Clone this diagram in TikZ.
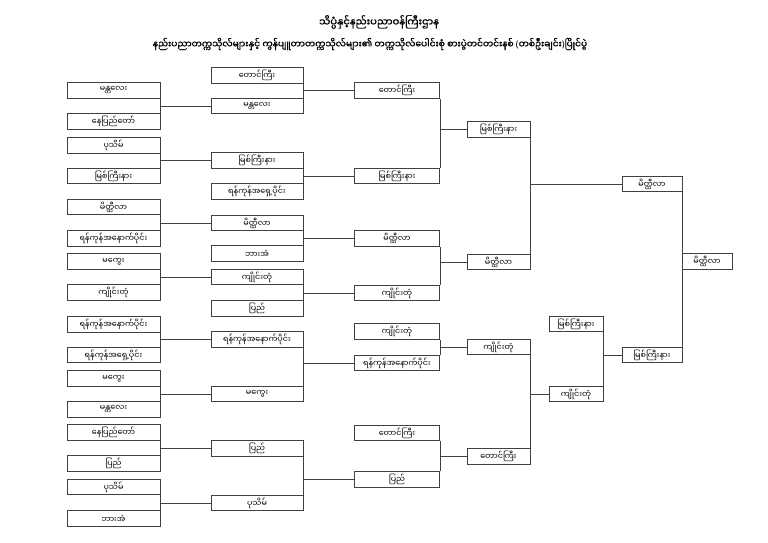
\documentclass[tikz,border=0pt]{standalone}
\usepackage{fontspec}
\newfontfamily\mm[Script=Myanmar]{Noto Sans Myanmar UI}
\newfontfamily\mmb[Script=Myanmar,FakeBold=1.5]{Noto Sans Myanmar UI}
\newfontfamily\latb{Noto Sans}
\newcommand\lp{{\latb\bfseries(}}
\newcommand\rp{{\latb\bfseries)}}
\begin{document}
\begin{tikzpicture}[x=1pt,y=-1pt,
  box/.style={draw=black!75,line width=0.6pt,fill=white,inner sep=0pt,minimum height=15.5pt,font=\mm\fontsize{8}{9}\selectfont},
  ca/.style={box,minimum width=93pt},
  cb/.style={box,minimum width=92pt},
  cc/.style={box,minimum width=85pt},
  cd/.style={box,minimum width=63pt},
  ce/.style={box,minimum width=60pt},
  cf/.style={box,minimum width=54pt},
  cg/.style={box,minimum width=50pt},
  ln/.style={draw=black!75,line width=0.6pt},
  ttl/.style={inner sep=0pt}]
\path[use as bounding box,fill=white] (0,0) rectangle (768,543);
% title
\node[ttl,font=\mmb\fontsize{10}{11}\selectfont] (t1) at (379,22) {သိပ္ပံနှင့်နည်းပညာဝန်ကြီးဌာန};
\node[ttl,font=\mmb\fontsize{9.1}{10}\selectfont] (t2) at (370,44) {နည်းပညာတက္ကသိုလ်များနှင့် ကွန်ပျူတာတက္ကသိုလ်များ၏ တက္ကသိုလ်ပေါင်းစုံ စားပွဲတင်တင်းနစ် \lp{}တစ်ဦးချင်း\rp{}ပြိုင်ပွဲ};
% column 1
\node[ca] (a1) at (113.5,90.5) {မန္တလေး};
\node[ca] (a2) at (113.5,121.5) {နေပြည်တော်};
\node[ca] (a3) at (113.5,145.5) {ပုသိမ်};
\node[ca] (a4) at (113.5,176) {မြစ်ကြီးနား};
\node[ca] (a5) at (113.5,207) {မိတ္ထီလာ};
\node[ca] (a6) at (113.5,238.5) {ရန်ကုန်အနောက်ပိုင်း};
\node[ca] (a7) at (113.5,261.5) {မကွေး};
\node[ca] (a8) at (113.5,292.5) {ကျိုင်းတုံ};
\node[ca] (a9) at (113.5,324.5) {ရန်ကုန်အနောက်ပိုင်း};
\node[ca] (a10) at (113.5,355) {ရန်ကုန်အရှေ့ပိုင်း};
\node[ca] (a11) at (113.5,378.5) {မကွေး};
\node[ca] (a12) at (113.5,409.5) {မန္တလေး};
\node[ca] (a13) at (113.5,432.5) {နေပြည်တော်};
\node[ca] (a14) at (113.5,463.5) {ပြည်};
\node[ca] (a15) at (113.5,487) {ပုသိမ်};
\node[ca] (a16) at (113.5,518.5) {ဘားအံ};
% column 2
\node[cb] (b1) at (257,75.5) {တောင်ကြီး};
\node[cb] (b2) at (257,106) {မန္တလေး};
\node[cb] (b3) at (257,160.5) {မြစ်ကြီးနား};
\node[cb] (b4) at (257,191.5) {ရန်ကုန်အရှေ့ပိုင်း};
\node[cb] (b5) at (257,223) {မိတ္ထီလာ};
\node[cb] (b6) at (257,253.5) {ဘားအံ};
\node[cb] (b7) at (257,277) {ကျိုင်းတုံ};
\node[cb] (b8) at (257,308.5) {ပြည်};
\node[cb] (b9) at (257,339.5) {ရန်ကုန်အနောက်ပိုင်း};
\node[cb] (b10) at (257,394) {မကွေး};
\node[cb] (b11) at (257,448.5) {ပြည်};
\node[cb] (b12) at (257,503) {ပုသိမ်};
% column 3
\node[cc] (c1) at (397,90.5) {တောင်ကြီး};
\node[cc] (c2) at (397,176) {မြစ်ကြီးနား};
\node[cc] (c3) at (397,238.5) {မိတ္ထီလာ};
\node[cc] (c4) at (397,293) {ကျိုင်းတုံ};
\node[cc] (c5) at (397,331.5) {ကျိုင်းတုံ};
\node[cc] (c6) at (397,363) {ရန်ကုန်အနောက်ပိုင်း};
\node[cc] (c7) at (397,433) {တောင်ကြီး};
\node[cc] (c8) at (397,479.5) {ပြည်};
% column 4
\node[cd] (d1) at (498.5,129.5) {မြစ်ကြီးနား};
\node[cd] (d2) at (498.5,262) {မိတ္ထီလာ};
\node[cd] (d3) at (498.5,347) {ကျိုင်းတုံ};
\node[cd] (d4) at (498.5,456.5) {တောင်ကြီး};
% lower middle column
\node[cf] (f1) at (576,324) {မြစ်ကြီးနား};
\node[cf] (f2) at (576,394) {ကျိုင်းတုံ};
% column 5
\node[ce] (e1) at (652,184) {မိတ္ထီလာ};
\node[ce] (e2) at (652,355) {မြစ်ကြီးနား};
% final
\node[cg] (g) at (707,261.5) {မိတ္ထီလာ};
% connectors
\foreach \p/\q/\t in {a1/a2/b2,a3/a4/b3,a5/a6/b5,a7/a8/b7,a9/a10/b9,a11/a12/b10,a13/a14/b11,a15/a16/b12,
  b1/b2/c1,b3/b4/c2,b5/b6/c3,b7/b8/c4,b9/b10/c6,b11/b12/c8,
  c1/c2/d1,c3/c4/d2,c5/c6/d3,c7/c8/d4,
  d1/d2/e1,d3/d4/f2,f1/f2/e2,e1/e2/g}{
  \draw[ln] (\p.south east) -- (\q.north east);
  \draw[ln] (\t.west) -- (\t.west -| \p.east);
}
\end{tikzpicture}
\end{document}
